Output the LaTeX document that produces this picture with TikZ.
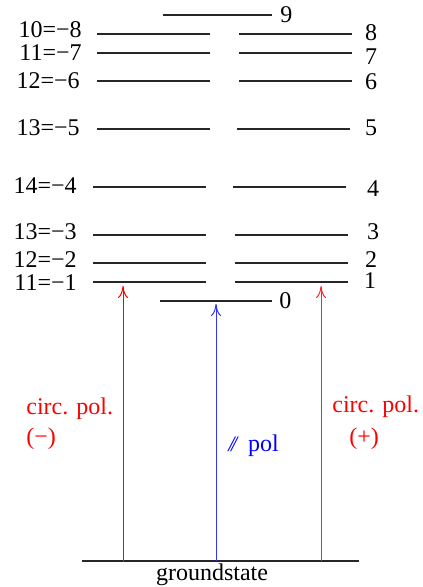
\documentclass[tikz,border=0pt]{standalone}
\usepackage{fontspec}
\setmainfont{Liberation Serif}
\usetikzlibrary{arrows.meta}
\begin{document}
\begin{tikzpicture}[x=0.5pt,y=-0.5pt,
  level/.style={draw=black!85,line width=0.6pt},
  lbl/.style={inner sep=0pt,font=\fontsize{12}{12}\selectfont},
  num/.style={lbl,text height=0.68em,text depth=0pt},
  redlbl/.style={lbl,text=red},
  excite/.style={line width=0.5pt,-{To[length=6pt,width=5pt]}}]
\useasboundingbox (0,0) rectangle (422,587);
% level 9
\draw[level] (163,15) -- (272,15) coordinate (l9);
\node[num,anchor=west] (n9) at (280,16) {9};
% left/right levels
\foreach \y/\la/\lb/\lc/\ra/\rb/\ly/\ry/\lx/\rx/\name/\rname in {
  34/97/210/239/239/352/31/34/82/371/10=−8/8,
  53/97/210/239/239/352/54/58/82/371/11=−7/7,
  81/97/210/239/239/352/82/83/80/371/12=−6/6,
  129/97/210/237/237/350/129/129/80/371/13=−5/5,
  187/93/206/233/233/346/187/190/77/373/14=−4/4,
  235/93/206/235/235/348/233/233/77/373/13=−3/3,
  263/93/206/235/235/348/261/261/77/371/12=−2/2,
  282/93/206/235/235/348/284/282/77/370/11=−1/1}{
  \draw[level] (\la,\y) -- (\lb,\y);
  \draw[level] (\ra,\y) -- (\rb,\y);
  \node[num,anchor=east] at (\lx,\ly) {\name};
  \node[num] at (\rx,\ry) {\rname};
}
% level 0
\draw[level] (160,301) -- (272,301);
\node[num,anchor=west] (n0) at (279,302) {0};
% ground state
\draw[level] (82,561) coordinate (g1) -- (359,561) coordinate (g2);
\node[lbl,anchor=north] (gs) at (212,563) {groundstate};
% arrow coordinates
\coordinate (am0) at (123,562);
\coordinate (am1) at (123,286);
\coordinate (ap0) at (216,561);
\coordinate (ap1) at (216,304);
\coordinate (aq0) at (321,561);
\coordinate (aq1) at (321,286);
\draw[excite,red] (am0) -- (am1);
\draw[excite,blue!80] (ap0) -- (ap1);
\draw[excite,red!85] (aq0) -- (aq1);
% labels
\node[redlbl,anchor=west] (cl) at (26,409) {circ. pol.};
\node[redlbl,anchor=west] (cm) at (26,439) {(−)};
\node[redlbl,anchor=west] (cr) at (332,407) {circ. pol.};
\node[redlbl,anchor=west] (cp) at (349,439) {(+)};
\node[lbl,anchor=west,text=blue] (pp) at (228,446) {{\fontsize{11}{11}\selectfont\itshape /\kern-0.15em/}\hspace{0.45em}pol};
\end{tikzpicture}
\end{document}
